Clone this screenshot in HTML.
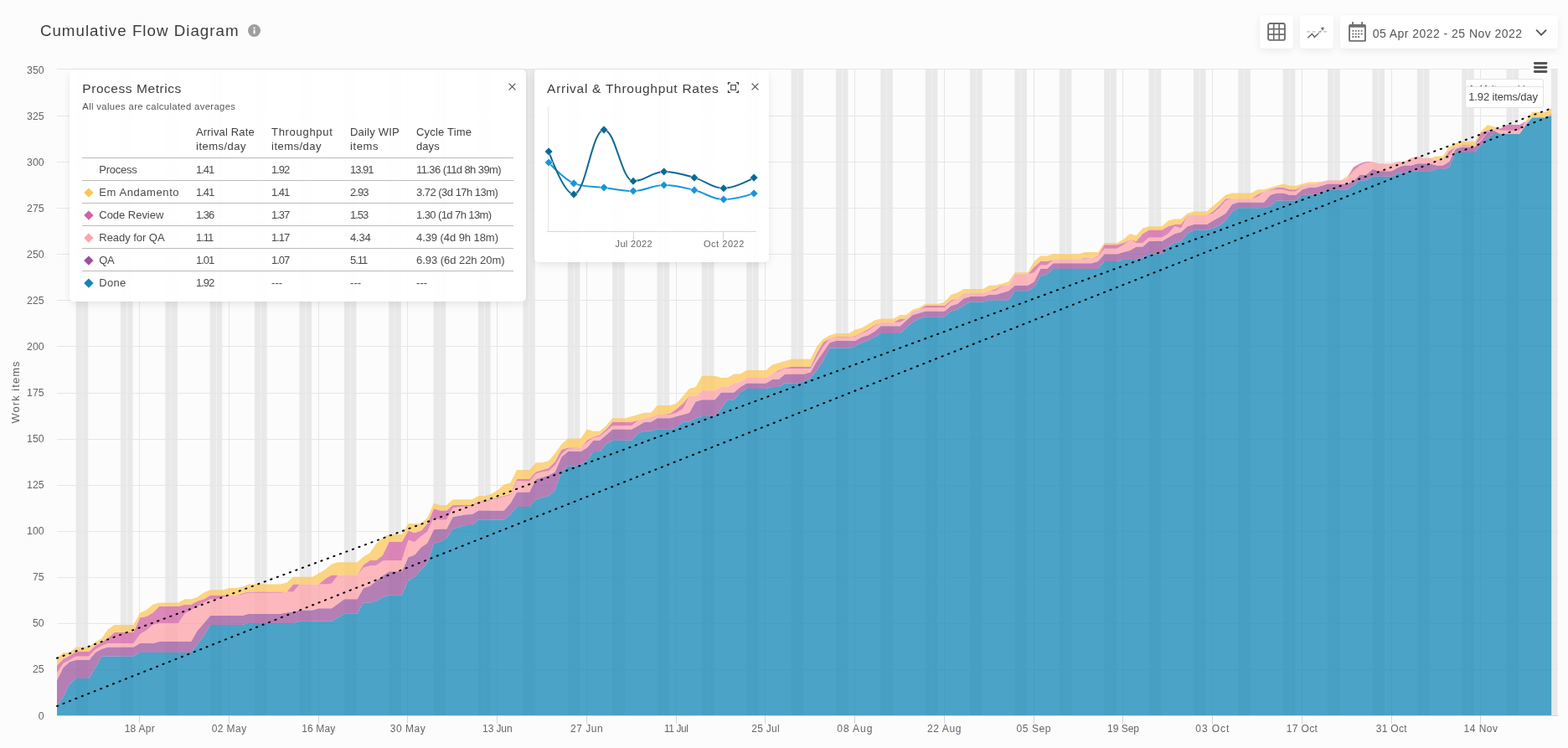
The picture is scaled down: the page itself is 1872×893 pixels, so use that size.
<!DOCTYPE html>
<html lang="en">
<head>
<meta charset="utf-8">
<title>Cumulative Flow Diagram</title>
<style>
*{box-sizing:border-box}
html,body{margin:0;padding:0}
body{width:1872px;height:893px;overflow:hidden;background:#fcfcfc;font-family:"Liberation Sans",sans-serif;color:#444;position:relative}
#chart{position:absolute;left:0;top:0;width:1872px;height:893px}
#chart text{font-family:"Liberation Sans",sans-serif;fill:#666}
h1{position:absolute;left:47.9px;top:24.3px;margin:0;font-weight:400;font-size:18.75px;line-height:26px;color:#3d3d3d;white-space:nowrap}
.info{position:absolute;left:296px;top:29px;width:15px;height:15px}
.btn{position:absolute;top:18px;height:40px;background:#fff;border-radius:4px;box-shadow:0 3px 10px rgba(0,0,0,.07),0 0 2px rgba(0,0,0,.03)}
.btn svg{position:absolute}
.date{position:absolute;left:38.7px;top:12.2px;font-size:14px;line-height:20px;color:#555;white-space:nowrap}
.panel{position:absolute;background:rgba(255,255,255,.95);border-radius:5px;box-shadow:0 4px 12px -2px rgba(0,0,0,.11),0 0 3px rgba(0,0,0,.03)}
.panel h2{position:absolute;margin:0;font-weight:400;font-size:15.5px;line-height:20px;color:#3d3d3d;white-space:nowrap}
.sub{position:absolute;font-size:11.3px;line-height:14px;color:#555;white-space:nowrap}
.x{position:absolute;width:9px;height:9px}
table{position:absolute;left:15px;top:62px;width:515px;border-collapse:separate;border-spacing:0;font-size:13px;color:#4a4a4a;table-layout:fixed}
th{font-weight:400;text-align:left;vertical-align:bottom;height:44px;line-height:17px;padding:0 0 5px 0;border-bottom:1px solid #bababa;white-space:nowrap;color:#404040}
td{height:27px;padding:1px 0 0 0;border-bottom:1px solid #bababa;white-space:nowrap;line-height:25px;vertical-align:top}
tr:last-child td{border-bottom:0}
td.n{padding-left:20.3px;position:relative}
td.n i{position:absolute;left:4.1px;top:9.6px;width:7.8px;height:7.8px;transform:rotate(45deg)}
.tl{position:absolute;background:#fff;border:1px solid #e2e2e2;border-radius:3px;font-size:13px;color:#444;white-space:nowrap;height:25px;line-height:22.4px;padding-left:3.7px;width:94px;left:1748.6px}
#menu{position:absolute;left:1827px;top:70px;width:24px;height:22px;background:#fcfcfc}
</style>
</head>
<body>
<svg id="chart" width="1872" height="893" viewBox="0 0 1872 893">
<g class="bands" fill="#e9e9e9"><rect x="90.6" y="83" width="7.35" height="771"/><rect x="98.3" y="83" width="6.9" height="771"/><rect x="143.9" y="83" width="7.35" height="771"/><rect x="151.7" y="83" width="6.9" height="771"/><rect x="197.3" y="83" width="7.35" height="771"/><rect x="205" y="83" width="6.9" height="771"/><rect x="250.7" y="83" width="7.35" height="771"/><rect x="258.4" y="83" width="6.9" height="771"/><rect x="304.1" y="83" width="7.35" height="771"/><rect x="311.8" y="83" width="6.9" height="771"/><rect x="357.4" y="83" width="7.35" height="771"/><rect x="365.2" y="83" width="6.9" height="771"/><rect x="410.8" y="83" width="7.35" height="771"/><rect x="418.5" y="83" width="6.9" height="771"/><rect x="464.2" y="83" width="7.35" height="771"/><rect x="471.9" y="83" width="6.9" height="771"/><rect x="517.6" y="83" width="7.35" height="771"/><rect x="525.3" y="83" width="6.9" height="771"/><rect x="570.9" y="83" width="7.35" height="771"/><rect x="578.7" y="83" width="6.9" height="771"/><rect x="624.3" y="83" width="7.35" height="771"/><rect x="632" y="83" width="6.9" height="771"/><rect x="677.7" y="83" width="7.35" height="771"/><rect x="685.4" y="83" width="6.9" height="771"/><rect x="731.1" y="83" width="7.35" height="771"/><rect x="738.8" y="83" width="6.9" height="771"/><rect x="784.4" y="83" width="7.35" height="771"/><rect x="792.2" y="83" width="6.9" height="771"/><rect x="837.8" y="83" width="7.35" height="771"/><rect x="845.5" y="83" width="6.9" height="771"/><rect x="891.2" y="83" width="7.35" height="771"/><rect x="898.9" y="83" width="6.9" height="771"/><rect x="944.6" y="83" width="7.35" height="771"/><rect x="952.3" y="83" width="6.9" height="771"/><rect x="997.9" y="83" width="7.35" height="771"/><rect x="1005.6" y="83" width="6.9" height="771"/><rect x="1051.3" y="83" width="7.35" height="771"/><rect x="1059" y="83" width="6.9" height="771"/><rect x="1104.7" y="83" width="7.35" height="771"/><rect x="1112.4" y="83" width="6.9" height="771"/><rect x="1158" y="83" width="7.35" height="771"/><rect x="1165.8" y="83" width="6.9" height="771"/><rect x="1211.4" y="83" width="7.35" height="771"/><rect x="1219.1" y="83" width="6.9" height="771"/><rect x="1264.8" y="83" width="7.35" height="771"/><rect x="1272.5" y="83" width="6.9" height="771"/><rect x="1318.2" y="83" width="7.35" height="771"/><rect x="1325.9" y="83" width="6.9" height="771"/><rect x="1371.5" y="83" width="7.35" height="771"/><rect x="1379.3" y="83" width="6.9" height="771"/><rect x="1424.9" y="83" width="7.35" height="771"/><rect x="1432.6" y="83" width="6.9" height="771"/><rect x="1478.3" y="83" width="7.35" height="771"/><rect x="1486" y="83" width="6.9" height="771"/><rect x="1531.7" y="83" width="7.35" height="771"/><rect x="1539.4" y="83" width="6.9" height="771"/><rect x="1585" y="83" width="7.35" height="771"/><rect x="1592.8" y="83" width="6.9" height="771"/><rect x="1638.4" y="83" width="7.35" height="771"/><rect x="1646.1" y="83" width="6.9" height="771"/><rect x="1691.8" y="83" width="7.35" height="771"/><rect x="1699.5" y="83" width="6.9" height="771"/><rect x="1745.2" y="83" width="7.35" height="771"/><rect x="1752.9" y="83" width="6.9" height="771"/><rect x="1798.5" y="83" width="7.35" height="771"/><rect x="1806.3" y="83" width="6.9" height="771"/><rect x="1851.9" y="83" width="7.35" height="771"/><rect x="1859.6" y="83" width="0.4" height="771"/></g>
<path class="grid" d="M68 82.5H1860 M68 138.5H1860 M68 193.5H1860 M68 248.5H1860 M68 303.5H1860 M68 358.5H1860 M68 413.5H1860 M68 469.5H1860 M68 524.5H1860 M68 579.5H1860 M68 634.5H1860 M68 689.5H1860 M68 744.5H1860 M68 799.5H1860 M166.5 83V854 M273.5 83V854 M380.5 83V854 M486.5 83V854 M593.5 83V854 M700.5 83V854 M807.5 83V854 M913.5 83V854 M1020.5 83V854 M1127.5 83V854 M1234.5 83V854 M1340.5 83V854 M1447.5 83V854 M1554.5 83V854 M1661.5 83V854 M1767.5 83V854" stroke="#e6e6e6" stroke-width="1" fill="none"/>
<path class="area" d="M68 843 75.6 832 83.2 816.6 90.9 809.9 106.1 809.9 113.7 797.8 121.4 783.5 159.5 783.5 167.1 779.1 228.1 779.1 235.7 769.2 243.4 759.3 251 746.1 289.1 746.1 296.7 743.9 350.1 743.9 357.7 741.7 395.9 741.7 403.5 737.2 411.1 732.8 426.4 732.8 434 719.6 441.6 719.6 449.2 717.4 456.9 713 464.5 710.8 479.7 710.8 487.4 693.2 495 688.8 502.6 680.6 510.2 672.5 517.9 649.1 525.5 646.9 533.1 642.5 540.7 631.5 548.4 629.3 556 627.1 563.6 627.1 571.2 620.5 601.7 620.5 609.4 613.9 617 605.1 632.2 605.1 639.9 596.3 647.5 594.1 655.1 591.9 662.7 585.3 670.4 563.2 678 556.6 685.6 556.6 693.2 554.4 700.9 550 708.5 539 716.1 539 723.7 530.2 731.4 525.8 754.2 525.8 761.9 517 769.5 514.8 777.1 514.8 784.7 512.6 800 512.6 807.6 510.4 815.2 503.7 822.9 503.7 830.5 499.3 838.1 497.1 853.4 497.1 861 488.3 868.6 477.3 876.2 477.3 883.9 468.5 891.5 464.1 914.4 464.1 922 461.9 929.6 461.9 937.2 457.5 952.5 457.5 960.1 455.3 967.7 450.9 975.3 442.1 983 431.1 990.6 415.6 1013.5 415.6 1021.1 413.4 1028.7 409 1036.3 406.8 1044 402.4 1051.6 398 1074.5 398 1082.1 391.4 1089.7 384.8 1097.3 380.4 1105 378.2 1127.8 378.2 1135.5 371.6 1143.1 369.4 1150.7 365 1158.3 360.6 1173.6 360.6 1181.2 358.4 1204.1 358.4 1211.7 347.3 1227 347.3 1234.6 342.9 1242.2 329.7 1249.8 327.5 1257.5 320.9 1310.8 320.9 1318.5 312.1 1333.7 312.1 1341.3 309.9 1356.6 309.9 1364.2 307.7 1371.8 303.3 1387.1 303.3 1394.7 294.5 1402.3 290.1 1410 287.9 1417.6 279.1 1425.2 274.6 1440.5 274.6 1448.1 272.4 1455.7 269.4 1463.3 263.6 1471 252.6 1478.6 248.2 1509.1 248.2 1516.7 246 1524.3 239.4 1547.2 239.4 1554.8 232.8 1570.1 232.8 1577.7 230.6 1585.3 226.2 1608.2 226.2 1615.8 221.8 1623.5 215.2 1631.1 215.2 1638.7 210.8 1661.6 210.8 1669.2 206.4 1676.8 206.4 1684.5 204.2 1707.3 204.2 1715 202 1722.6 202 1730.2 199.8 1737.8 182.1 1760.7 182.1 1768.3 173.3 1776 164.5 1783.6 160.1 1814.1 160.1 1821.7 149.1 1829.3 140.3 1844.6 140.3 1852.2 138.1 L1852.2 854 68 854Z" fill="#1085b5" fill-opacity="0.75"/>
<path class="area" d="M68 812.1 75.6 796.7 83.2 790.1 90.9 787.9 106.1 787.9 113.7 779.1 121.4 774.7 129 772.5 159.5 772.5 167.1 768.1 182.4 768.1 190 765.9 228.1 765.9 235.7 752.7 243.4 743.9 251 735 289.1 735 296.7 732.8 334.9 732.8 342.5 731.3 350.1 730.6 357.7 728.4 373 728.4 380.6 726.2 395.9 726.2 403.5 720.7 411.1 715.2 426.4 715.2 434 702 441.6 699.8 449.2 693.2 456.9 687.2 464.5 682.2 479.7 682.2 487.4 665.2 495 662.4 502.6 653.5 510.2 648.3 517.9 632.2 525.5 631.5 533.1 631.5 540.7 617 548.4 615.7 556 614.3 563.6 613.9 571.2 609.5 601.7 609.5 609.4 600.7 617 587.5 632.2 587.5 639.9 572 647.5 569.8 655.1 567.6 662.7 563.2 670.4 545.6 678 539 693.2 539 700.9 534.6 708.5 525.8 716.1 525.8 723.7 519.2 731.4 512.6 754.2 512.6 761.9 508.2 769.5 503.7 777.1 503.7 784.7 499.3 800 499.3 807.6 497.1 815.2 494.9 822.9 492.7 830.5 479.5 838.1 477.3 853.4 477.3 861 468.5 876.2 468.5 883.9 461.9 891.5 457.5 914.4 457.5 922 453.1 929.6 453.1 937.2 446.5 960.1 446.5 967.7 444.3 975.3 431.1 983 420 990.6 409 998.2 406.8 1021.1 406.8 1028.7 402.4 1036.3 400.2 1044 395.8 1051.6 389.2 1074.5 389.2 1082.1 382.6 1089.7 376 1097.3 373.8 1105 371.6 1127.8 371.6 1135.5 365 1143.1 362.8 1150.7 356.2 1158.3 354 1173.6 354 1181.2 351.7 1188.8 351.7 1196.5 349.5 1204.1 347.3 1211.7 340.7 1227 340.7 1234.6 336.3 1242.2 320.9 1249.8 320.9 1257.5 314.3 1303.2 314.3 1310.8 312.1 1318.5 303.3 1333.7 303.3 1341.3 301.1 1349 298.9 1356.6 294.5 1364.2 294.5 1371.8 287.9 1387.1 287.9 1394.7 283.5 1402.3 279.1 1410 276.9 1417.6 270.2 1425.2 268 1440.5 268 1448.1 263.6 1455.7 259.2 1463.3 254.8 1471 243.8 1478.6 241.6 1509.1 241.6 1516.7 232.8 1524.3 230.6 1532 230.6 1539.6 232.8 1547.2 232.8 1554.8 226.2 1562.5 224 1570.1 224 1577.7 221.8 1585.3 219.6 1608.2 219.6 1615.8 216.3 1623.5 208.6 1631.1 208.6 1638.7 202 1646.3 204.2 1661.6 204.2 1669.2 199.8 1676.8 197.5 1684.5 197.5 1692.1 195.3 1707.3 195.3 1715 197.5 1722.6 197.5 1730.2 193.1 1737.8 177.7 1745.5 175.5 1760.7 175.5 1768.3 167.8 1776 157.9 1783.6 155.7 1791.2 160.1 1814.1 160.1 1821.7 149.1 1829.3 140.3 1844.6 140.3 1852.2 138.1 L1852.2 138.1 1844.6 140.3 1829.3 140.3 1821.7 149.1 1814.1 160.1 1783.6 160.1 1776 164.5 1768.3 173.3 1760.7 182.1 1737.8 182.1 1730.2 199.8 1722.6 202 1715 202 1707.3 204.2 1684.5 204.2 1676.8 206.4 1669.2 206.4 1661.6 210.8 1638.7 210.8 1631.1 215.2 1623.5 215.2 1615.8 221.8 1608.2 226.2 1585.3 226.2 1577.7 230.6 1570.1 232.8 1554.8 232.8 1547.2 239.4 1524.3 239.4 1516.7 246 1509.1 248.2 1478.6 248.2 1471 252.6 1463.3 263.6 1455.7 269.4 1448.1 272.4 1440.5 274.6 1425.2 274.6 1417.6 279.1 1410 287.9 1402.3 290.1 1394.7 294.5 1387.1 303.3 1371.8 303.3 1364.2 307.7 1356.6 309.9 1341.3 309.9 1333.7 312.1 1318.5 312.1 1310.8 320.9 1257.5 320.9 1249.8 327.5 1242.2 329.7 1234.6 342.9 1227 347.3 1211.7 347.3 1204.1 358.4 1181.2 358.4 1173.6 360.6 1158.3 360.6 1150.7 365 1143.1 369.4 1135.5 371.6 1127.8 378.2 1105 378.2 1097.3 380.4 1089.7 384.8 1082.1 391.4 1074.5 398 1051.6 398 1044 402.4 1036.3 406.8 1028.7 409 1021.1 413.4 1013.5 415.6 990.6 415.6 983 431.1 975.3 442.1 967.7 450.9 960.1 455.3 952.5 457.5 937.2 457.5 929.6 461.9 922 461.9 914.4 464.1 891.5 464.1 883.9 468.5 876.2 477.3 868.6 477.3 861 488.3 853.4 497.1 838.1 497.1 830.5 499.3 822.9 503.7 815.2 503.7 807.6 510.4 800 512.6 784.7 512.6 777.1 514.8 769.5 514.8 761.9 517 754.2 525.8 731.4 525.8 723.7 530.2 716.1 539 708.5 539 700.9 550 693.2 554.4 685.6 556.6 678 556.6 670.4 563.2 662.7 585.3 655.1 591.9 647.5 594.1 639.9 596.3 632.2 605.1 617 605.1 609.4 613.9 601.7 620.5 571.2 620.5 563.6 627.1 556 627.1 548.4 629.3 540.7 631.5 533.1 642.5 525.5 646.9 517.9 649.1 510.2 672.5 502.6 680.6 495 688.8 487.4 693.2 479.7 710.8 464.5 710.8 456.9 713 449.2 717.4 441.6 719.6 434 719.6 426.4 732.8 411.1 732.8 403.5 737.2 395.9 741.7 357.7 741.7 350.1 743.9 296.7 743.9 289.1 746.1 251 746.1 243.4 759.3 235.7 769.2 228.1 779.1 167.1 779.1 159.5 783.5 121.4 783.5 113.7 797.8 106.1 809.9 90.9 809.9 83.2 816.6 75.6 832 68 843Z" fill="#9c559d" fill-opacity="0.75"/>
<path class="area" d="M68 803.3 75.6 791.9 83.2 787.9 90.9 783.5 106.1 783.5 113.7 775.6 121.4 771 129 768.1 159.5 768.1 167.1 757.1 174.7 752.7 182.4 746.1 190 743.9 212.9 743.9 220.5 732.8 228.1 728.4 235.7 724 243.4 719.6 251 715.2 258.6 715.2 266.2 713 273.9 710.8 281.5 710.8 289.1 709.7 296.7 707.7 334.9 707.7 342.5 706.4 350.1 706.4 357.7 697.6 388.2 697.6 395.9 696.7 403.5 686.6 426.4 686.6 434 677.8 441.6 675.6 449.2 674.9 456.9 669.6 464.5 669 479.7 669 487.4 644.7 495 646.9 502.6 640.3 510.2 634.8 517.9 618.3 525.5 620.5 533.1 620.5 540.7 606.6 548.4 605.1 556 604.4 563.6 604 571.2 599.8 578.9 599.3 586.5 597.1 594.1 595.2 601.7 593 609.4 590.8 617 574.2 632.2 574.2 639.9 565.4 647.5 563.2 655.1 562.3 662.7 555.5 670.4 542.3 678 535.7 685.6 535 693.2 534.6 700.9 528 708.5 522.2 716.1 521.1 723.7 514.8 731.4 508.2 754.2 508.2 761.9 501.5 769.5 499.3 777.1 499.3 784.7 494.9 800 494.9 807.6 492.7 815.2 488.3 822.9 472.9 830.5 472.9 838.1 466.3 853.4 466.3 861 461.9 868.6 461.9 876.2 457.5 883.9 455.3 891.5 450.9 914.4 450.9 922 446.5 929.6 443.4 937.2 439.9 967.7 439.9 975.3 426.6 983 413.4 990.6 404.6 998.2 402.4 1013.5 402.4 1021.1 401.8 1028.7 398 1036.3 394.9 1044 389.2 1051.6 384.8 1074.5 384.8 1082.1 380.4 1089.7 371.6 1097.3 369.4 1105 367.2 1127.8 367.2 1135.5 360.1 1143.1 356.2 1150.7 351.7 1158.3 349.5 1173.6 349.5 1181.2 347.3 1188.8 346.9 1196.5 341.4 1204.1 340.7 1211.7 327.5 1227 327.5 1234.6 325.3 1242.2 316.5 1249.8 316.5 1257.5 309.9 1288 309.9 1295.6 308.8 1303.2 307.7 1310.8 306.4 1318.5 296.7 1333.7 296.7 1341.3 292.3 1349 285.7 1356.6 290.1 1364.2 290.1 1371.8 283.5 1387.1 283.5 1394.7 279.1 1402.3 270.2 1410 272.4 1417.6 257 1440.5 257 1448.1 254.8 1455.7 248.2 1463.3 239.4 1471 237.2 1493.8 237.2 1501.5 235 1509.1 228.4 1516.7 227.1 1524.3 226.2 1532 226.2 1539.6 228.4 1547.2 228.4 1554.8 221.8 1562.5 219.6 1570.1 219.6 1577.7 217.4 1585.3 215.2 1600.6 215.2 1608.2 213 1615.8 204.2 1623.5 197.5 1631.1 194.2 1638.7 193.1 1646.3 195.3 1661.6 195.3 1669.2 193.1 1676.8 193.1 1684.5 188.7 1692.1 186.5 1699.7 188.7 1707.3 188.7 1715 190.9 1722.6 190.9 1730.2 185.4 1737.8 175.5 1745.5 174 1753.1 174 1760.7 173.3 1768.3 166.7 1776 157.9 1783.6 153.5 1791.2 155.7 1814.1 155.7 1821.7 144.7 1829.3 140.3 1844.6 140.3 1852.2 137 L1852.2 138.1 1844.6 140.3 1829.3 140.3 1821.7 149.1 1814.1 160.1 1791.2 160.1 1783.6 155.7 1776 157.9 1768.3 167.8 1760.7 175.5 1745.5 175.5 1737.8 177.7 1730.2 193.1 1722.6 197.5 1715 197.5 1707.3 195.3 1692.1 195.3 1684.5 197.5 1676.8 197.5 1669.2 199.8 1661.6 204.2 1646.3 204.2 1638.7 202 1631.1 208.6 1623.5 208.6 1615.8 216.3 1608.2 219.6 1585.3 219.6 1577.7 221.8 1570.1 224 1562.5 224 1554.8 226.2 1547.2 232.8 1539.6 232.8 1532 230.6 1524.3 230.6 1516.7 232.8 1509.1 241.6 1478.6 241.6 1471 243.8 1463.3 254.8 1455.7 259.2 1448.1 263.6 1440.5 268 1425.2 268 1417.6 270.2 1410 276.9 1402.3 279.1 1394.7 283.5 1387.1 287.9 1371.8 287.9 1364.2 294.5 1356.6 294.5 1349 298.9 1341.3 301.1 1333.7 303.3 1318.5 303.3 1310.8 312.1 1303.2 314.3 1257.5 314.3 1249.8 320.9 1242.2 320.9 1234.6 336.3 1227 340.7 1211.7 340.7 1204.1 347.3 1196.5 349.5 1188.8 351.7 1181.2 351.7 1173.6 354 1158.3 354 1150.7 356.2 1143.1 362.8 1135.5 365 1127.8 371.6 1105 371.6 1097.3 373.8 1089.7 376 1082.1 382.6 1074.5 389.2 1051.6 389.2 1044 395.8 1036.3 400.2 1028.7 402.4 1021.1 406.8 998.2 406.8 990.6 409 983 420 975.3 431.1 967.7 444.3 960.1 446.5 937.2 446.5 929.6 453.1 922 453.1 914.4 457.5 891.5 457.5 883.9 461.9 876.2 468.5 861 468.5 853.4 477.3 838.1 477.3 830.5 479.5 822.9 492.7 815.2 494.9 807.6 497.1 800 499.3 784.7 499.3 777.1 503.7 769.5 503.7 761.9 508.2 754.2 512.6 731.4 512.6 723.7 519.2 716.1 525.8 708.5 525.8 700.9 534.6 693.2 539 678 539 670.4 545.6 662.7 563.2 655.1 567.6 647.5 569.8 639.9 572 632.2 587.5 617 587.5 609.4 600.7 601.7 609.5 571.2 609.5 563.6 613.9 556 614.3 548.4 615.7 540.7 617 533.1 631.5 525.5 631.5 517.9 632.2 510.2 648.3 502.6 653.5 495 662.4 487.4 665.2 479.7 682.2 464.5 682.2 456.9 687.2 449.2 693.2 441.6 699.8 434 702 426.4 715.2 411.1 715.2 403.5 720.7 395.9 726.2 380.6 726.2 373 728.4 357.7 728.4 350.1 730.6 342.5 731.3 334.9 732.8 296.7 732.8 289.1 735 251 735 243.4 743.9 235.7 752.7 228.1 765.9 190 765.9 182.4 768.1 167.1 768.1 159.5 772.5 129 772.5 121.4 774.7 113.7 779.1 106.1 787.9 90.9 787.9 83.2 790.1 75.6 796.7 68 812.1Z" fill="#fda1a8" fill-opacity="0.75"/>
<path class="area" d="M68 794.5 75.6 786.8 83.2 782.8 90.9 777.8 106.1 777.8 113.7 771 121.4 766.5 129 761.5 136.6 754.9 159.5 754.9 167.1 737.2 174.7 736.1 182.4 731.5 190 724 212.9 724 220.5 721.8 228.1 721.8 235.7 717.4 243.4 715.2 251 710.8 281.5 710.8 289.1 708.6 296.7 706.4 342.5 706.4 350.1 697.6 380.6 697.6 388.2 691 395.9 686.6 426.4 686.6 434 674.2 441.6 669 449.2 669 456.9 662.8 464.5 646.9 479.7 646.9 487.4 633.7 495 635.9 502.6 633.7 510.2 624.9 517.9 607.3 525.5 609.5 533.1 609.5 540.7 602.9 563.6 602.9 571.2 598.5 578.9 598.5 586.5 596.3 594.1 594.1 601.7 591.9 609.4 589.7 617 572 632.2 572 639.9 563.2 647.5 561 655.1 558.8 662.7 551.1 670.4 536.8 678 534.6 693.2 534.6 700.9 525.8 708.5 521.4 716.1 519.2 723.7 512.6 731.4 503.7 754.2 503.7 761.9 501.5 769.5 499.3 777.1 498.5 784.7 494.9 792.4 494.9 800 493.8 807.6 488.3 815.2 481.7 822.9 472.9 830.5 472.9 838.1 466.3 853.4 466.3 861 461.9 868.6 461.9 876.2 457.5 883.9 455.3 891.5 450.9 914.4 450.9 922 446.5 929.6 442.1 937.2 439.2 944.9 437.7 967.7 437.7 975.3 421.8 983 408.4 990.6 404.2 998.2 402 1013.5 402 1021.1 401.1 1028.7 396.9 1036.3 393.2 1044 387.9 1051.6 384.8 1066.8 384.8 1074.5 380.4 1082.1 380.4 1089.7 371.6 1097.3 369.4 1105 365 1127.8 365 1135.5 358.4 1143.1 356.2 1150.7 350.9 1158.3 349.5 1173.6 349.5 1181.2 347.3 1188.8 345.1 1196.5 340.7 1204.1 340.7 1211.7 327.5 1227 327.5 1234.6 318.7 1242.2 312.1 1249.8 312.1 1257.5 309.9 1288 309.9 1295.6 307.7 1303.2 307.7 1310.8 305.5 1318.5 292.3 1333.7 292.3 1341.3 290.1 1349 285.7 1356.6 287.9 1364.2 279.1 1371.8 274.6 1387.1 274.6 1394.7 270.2 1402.3 268 1410 268 1417.6 257 1440.5 257 1448.1 252.6 1455.7 245.4 1463.3 237.2 1493.8 237.2 1501.5 231.9 1509.1 228.4 1516.7 226.2 1524.3 224 1532 224 1539.6 226.2 1547.2 226.2 1554.8 221.6 1562.5 219.6 1570.1 219.6 1577.7 217.4 1585.3 215.2 1600.6 215.2 1608.2 213 1615.8 199.8 1623.5 195.3 1631.1 193.1 1638.7 193.1 1646.3 195.3 1661.6 195.3 1669.2 193.1 1676.8 193.1 1684.5 188.7 1692.1 186.5 1699.7 188.7 1707.3 188.7 1715 190.9 1722.6 190.9 1730.2 179.9 1737.8 175.5 1745.5 173.3 1760.7 173.3 1768.3 157.9 1776 155.7 1783.6 153.5 1791.2 153.5 1798.8 149.1 1814.1 149.1 1821.7 144.7 1829.3 140.3 1844.6 140.3 1852.2 135.9 L1852.2 137 1844.6 140.3 1829.3 140.3 1821.7 144.7 1814.1 155.7 1791.2 155.7 1783.6 153.5 1776 157.9 1768.3 166.7 1760.7 173.3 1753.1 174 1745.5 174 1737.8 175.5 1730.2 185.4 1722.6 190.9 1715 190.9 1707.3 188.7 1699.7 188.7 1692.1 186.5 1684.5 188.7 1676.8 193.1 1669.2 193.1 1661.6 195.3 1646.3 195.3 1638.7 193.1 1631.1 194.2 1623.5 197.5 1615.8 204.2 1608.2 213 1600.6 215.2 1585.3 215.2 1577.7 217.4 1570.1 219.6 1562.5 219.6 1554.8 221.8 1547.2 228.4 1539.6 228.4 1532 226.2 1524.3 226.2 1516.7 227.1 1509.1 228.4 1501.5 235 1493.8 237.2 1471 237.2 1463.3 239.4 1455.7 248.2 1448.1 254.8 1440.5 257 1417.6 257 1410 272.4 1402.3 270.2 1394.7 279.1 1387.1 283.5 1371.8 283.5 1364.2 290.1 1356.6 290.1 1349 285.7 1341.3 292.3 1333.7 296.7 1318.5 296.7 1310.8 306.4 1303.2 307.7 1295.6 308.8 1288 309.9 1257.5 309.9 1249.8 316.5 1242.2 316.5 1234.6 325.3 1227 327.5 1211.7 327.5 1204.1 340.7 1196.5 341.4 1188.8 346.9 1181.2 347.3 1173.6 349.5 1158.3 349.5 1150.7 351.7 1143.1 356.2 1135.5 360.1 1127.8 367.2 1105 367.2 1097.3 369.4 1089.7 371.6 1082.1 380.4 1074.5 384.8 1051.6 384.8 1044 389.2 1036.3 394.9 1028.7 398 1021.1 401.8 1013.5 402.4 998.2 402.4 990.6 404.6 983 413.4 975.3 426.6 967.7 439.9 937.2 439.9 929.6 443.4 922 446.5 914.4 450.9 891.5 450.9 883.9 455.3 876.2 457.5 868.6 461.9 861 461.9 853.4 466.3 838.1 466.3 830.5 472.9 822.9 472.9 815.2 488.3 807.6 492.7 800 494.9 784.7 494.9 777.1 499.3 769.5 499.3 761.9 501.5 754.2 508.2 731.4 508.2 723.7 514.8 716.1 521.1 708.5 522.2 700.9 528 693.2 534.6 685.6 535 678 535.7 670.4 542.3 662.7 555.5 655.1 562.3 647.5 563.2 639.9 565.4 632.2 574.2 617 574.2 609.4 590.8 601.7 593 594.1 595.2 586.5 597.1 578.9 599.3 571.2 599.8 563.6 604 556 604.4 548.4 605.1 540.7 606.6 533.1 620.5 525.5 620.5 517.9 618.3 510.2 634.8 502.6 640.3 495 646.9 487.4 644.7 479.7 669 464.5 669 456.9 669.6 449.2 674.9 441.6 675.6 434 677.8 426.4 686.6 403.5 686.6 395.9 696.7 388.2 697.6 357.7 697.6 350.1 706.4 342.5 706.4 334.9 707.7 296.7 707.7 289.1 709.7 281.5 710.8 273.9 710.8 266.2 713 258.6 715.2 251 715.2 243.4 719.6 235.7 724 228.1 728.4 220.5 732.8 212.9 743.9 190 743.9 182.4 746.1 174.7 752.7 167.1 757.1 159.5 768.1 129 768.1 121.4 771 113.7 775.6 106.1 783.5 90.9 783.5 83.2 787.9 75.6 791.9 68 803.3Z" fill="#d460a4" fill-opacity="0.75"/>
<path class="area" d="M68 785.7 75.6 779.1 83.2 779.1 90.9 772.5 106.1 772.5 113.7 766.5 121.4 762.1 129 751.3 136.6 746.1 159.5 746.1 167.1 731.5 174.7 728.4 182.4 721.8 190 719.6 212.9 719.6 220.5 715.2 228.1 715.2 235.7 713 243.4 707.3 251 704.2 266.2 704.2 273.9 702 281.5 702 289.1 701.1 296.7 697.6 334.9 697.6 342.5 695.4 350.1 688.8 373 688.8 380.6 684.4 388.2 680 395.9 673.4 403.5 671.2 426.4 671.2 434 664.6 441.6 660.1 449.2 649.1 456.9 642.5 464.5 638.1 479.7 638.1 487.4 624.9 502.6 624.9 510.2 618.3 517.9 600.7 525.5 602.9 533.1 602.9 540.7 596.3 563.6 596.3 571.2 591.9 578.9 591.9 586.5 589.7 594.1 585.3 601.7 578.6 609.4 576.4 617 561 632.2 561 639.9 552.2 647.5 552.2 655.1 550 662.7 541.2 670.4 530.2 678 523.6 693.2 523.6 700.9 512.6 708.5 514.8 716.1 514.8 723.7 508.2 731.4 499.3 746.6 499.3 754.2 497.1 761.9 494.9 769.5 492.7 777.1 492.7 784.7 483.9 800 483.9 807.6 481.7 815.2 472.9 822.9 464.1 830.5 461.9 838.1 448.7 853.4 448.7 861 450.9 868.6 450.9 876.2 446.5 883.9 446.5 891.5 442.1 914.4 442.1 922 435.5 929.6 433.3 937.2 431.1 944.9 428.8 967.7 428.8 975.3 413.4 983 404.6 990.6 400.2 998.2 398 1013.5 398 1021.1 393.6 1028.7 391.4 1036.3 387 1044 382.6 1051.6 380.4 1066.8 380.4 1074.5 376 1082.1 376 1089.7 369.4 1097.3 367.2 1105 362.8 1120.2 362.8 1127.8 360.6 1135.5 351.7 1143.1 349.5 1150.7 345.1 1173.6 345.1 1181.2 340.7 1188.8 340.7 1196.5 338.5 1204.1 336.3 1211.7 325.3 1227 325.3 1234.6 312.1 1242.2 305.5 1249.8 305.5 1257.5 303.3 1288 303.3 1295.6 301.1 1310.8 301.1 1318.5 290.1 1333.7 290.1 1341.3 285.7 1349 279.1 1356.6 281.3 1364.2 272.4 1371.8 270.2 1387.1 270.2 1394.7 263.6 1402.3 261.4 1410 261.4 1417.6 254.8 1425.2 252.6 1440.5 252.6 1448.1 246 1455.7 239.4 1463.3 232.8 1471 230.6 1493.8 230.6 1501.5 226.2 1509.1 226.2 1516.7 224 1524.3 221.8 1532 219.6 1539.6 221.8 1547.2 221.8 1554.8 219.6 1562.5 217.4 1570.1 217.4 1577.7 216.7 1585.3 215.2 1600.6 215.2 1608.2 210.8 1615.8 199.3 1623.5 195.3 1631.1 193.1 1638.7 193.1 1646.3 195.3 1661.6 195.3 1669.2 193.1 1676.8 193.1 1684.5 188.7 1692.1 186.5 1699.7 188.7 1707.3 188.7 1715 186.5 1722.6 186.5 1730.2 175.5 1737.8 171.1 1745.5 168.9 1760.7 168.9 1768.3 156.8 1776 149.1 1783.6 151.3 1791.2 153.5 1798.8 149.1 1814.1 149.1 1821.7 144.7 1829.3 133.7 1844.6 133.7 1852.2 129.3 L1852.2 135.9 1844.6 140.3 1829.3 140.3 1821.7 144.7 1814.1 149.1 1798.8 149.1 1791.2 153.5 1783.6 153.5 1776 155.7 1768.3 157.9 1760.7 173.3 1745.5 173.3 1737.8 175.5 1730.2 179.9 1722.6 190.9 1715 190.9 1707.3 188.7 1699.7 188.7 1692.1 186.5 1684.5 188.7 1676.8 193.1 1669.2 193.1 1661.6 195.3 1646.3 195.3 1638.7 193.1 1631.1 193.1 1623.5 195.3 1615.8 199.8 1608.2 213 1600.6 215.2 1585.3 215.2 1577.7 217.4 1570.1 219.6 1562.5 219.6 1554.8 221.6 1547.2 226.2 1539.6 226.2 1532 224 1524.3 224 1516.7 226.2 1509.1 228.4 1501.5 231.9 1493.8 237.2 1463.3 237.2 1455.7 245.4 1448.1 252.6 1440.5 257 1417.6 257 1410 268 1402.3 268 1394.7 270.2 1387.1 274.6 1371.8 274.6 1364.2 279.1 1356.6 287.9 1349 285.7 1341.3 290.1 1333.7 292.3 1318.5 292.3 1310.8 305.5 1303.2 307.7 1295.6 307.7 1288 309.9 1257.5 309.9 1249.8 312.1 1242.2 312.1 1234.6 318.7 1227 327.5 1211.7 327.5 1204.1 340.7 1196.5 340.7 1188.8 345.1 1181.2 347.3 1173.6 349.5 1158.3 349.5 1150.7 350.9 1143.1 356.2 1135.5 358.4 1127.8 365 1105 365 1097.3 369.4 1089.7 371.6 1082.1 380.4 1074.5 380.4 1066.8 384.8 1051.6 384.8 1044 387.9 1036.3 393.2 1028.7 396.9 1021.1 401.1 1013.5 402 998.2 402 990.6 404.2 983 408.4 975.3 421.8 967.7 437.7 944.9 437.7 937.2 439.2 929.6 442.1 922 446.5 914.4 450.9 891.5 450.9 883.9 455.3 876.2 457.5 868.6 461.9 861 461.9 853.4 466.3 838.1 466.3 830.5 472.9 822.9 472.9 815.2 481.7 807.6 488.3 800 493.8 792.4 494.9 784.7 494.9 777.1 498.5 769.5 499.3 761.9 501.5 754.2 503.7 731.4 503.7 723.7 512.6 716.1 519.2 708.5 521.4 700.9 525.8 693.2 534.6 678 534.6 670.4 536.8 662.7 551.1 655.1 558.8 647.5 561 639.9 563.2 632.2 572 617 572 609.4 589.7 601.7 591.9 594.1 594.1 586.5 596.3 578.9 598.5 571.2 598.5 563.6 602.9 540.7 602.9 533.1 609.5 525.5 609.5 517.9 607.3 510.2 624.9 502.6 633.7 495 635.9 487.4 633.7 479.7 646.9 464.5 646.9 456.9 662.8 449.2 669 441.6 669 434 674.2 426.4 686.6 395.9 686.6 388.2 691 380.6 697.6 350.1 697.6 342.5 706.4 296.7 706.4 289.1 708.6 281.5 710.8 251 710.8 243.4 715.2 235.7 717.4 228.1 721.8 220.5 721.8 212.9 724 190 724 182.4 731.5 174.7 736.1 167.1 737.2 159.5 754.9 136.6 754.9 129 761.5 121.4 766.5 113.7 771 106.1 777.8 90.9 777.8 83.2 782.8 75.6 786.8 68 794.5Z" fill="#fcc759" fill-opacity="0.75"/>
<path class="axis" d="M68 854.5H1860 M166.5 854V864 M273.5 854V864 M380.5 854V864 M486.5 854V864 M593.5 854V864 M700.5 854V864 M807.5 854V864 M913.5 854V864 M1020.5 854V864 M1127.5 854V864 M1234.5 854V864 M1340.5 854V864 M1447.5 854V864 M1554.5 854V864 M1661.5 854V864 M1767.5 854V864" stroke="#ccd6eb" stroke-width="1" fill="none"/>
<path class="trend" d="M68 785.7L1852.2 129.3" stroke="#000" stroke-width="2" stroke-dasharray="1.2 6.8" stroke-linecap="round" fill="none"/>
<path class="trend" d="M68 843L1852.2 138.1" stroke="#000" stroke-width="2" stroke-dasharray="1.2 6.8" stroke-linecap="round" fill="none"/>
<g class="xl" text-anchor="middle" font-size="12"><text x="166.8" y="874" letter-spacing="0.26">18 Apr</text><text x="273.6" y="874" letter-spacing="0.43">02 May</text><text x="380.3" y="874" letter-spacing="0.13">16 May</text><text x="487.1" y="874" letter-spacing="0.53">30 May</text><text x="593.8" y="874" letter-spacing="-0.11">13 Jun</text><text x="700.6" y="874" letter-spacing="0.49">27 Jun</text><text x="807.3" y="874" letter-spacing="-0.43">11 Jul</text><text x="914.1" y="874" letter-spacing="0.29">25 Jul</text><text x="1020.8" y="874" letter-spacing="0.93">08 Aug</text><text x="1127.5" y="874" letter-spacing="0.62">22 Aug</text><text x="1234.3" y="874" letter-spacing="0.59">05 Sep</text><text x="1341" y="874" letter-spacing="-0.01">19 Sep</text><text x="1447.8" y="874" letter-spacing="0.93">03 Oct</text><text x="1554.5" y="874" letter-spacing="0.33">17 Oct</text><text x="1661.3" y="874" letter-spacing="0.33">31 Oct</text><text x="1768" y="874" letter-spacing="0.49">14 Nov</text></g>
<g class="yl" text-anchor="end" font-size="12.3"><text x="52.6" y="858.7">0</text><text x="52.6" y="803">25</text><text x="52.6" y="748">50</text><text x="52.6" y="693">75</text><text x="52.6" y="638">100</text><text x="52.6" y="583">125</text><text x="52.6" y="528">150</text><text x="52.6" y="473">175</text><text x="52.6" y="418">200</text><text x="52.6" y="363">225</text><text x="52.6" y="308">250</text><text x="52.6" y="253">275</text><text x="52.6" y="198">300</text><text x="52.6" y="143">325</text><text x="52.6" y="88">350</text></g>
<text class="yt" transform="translate(22.5 468) rotate(-90)" text-anchor="middle" font-size="13" letter-spacing="1.03">Work items</text>
</svg>
<h1 style="letter-spacing:1.0px">Cumulative Flow Diagram</h1>
<svg class="info" viewBox="0 0 15 15"><circle cx="7.5" cy="7.5" r="7.5" fill="#9e9e9e"/><rect x="6.6" y="6.4" width="2" height="5" fill="#fafafa"/><rect x="6.6" y="3.4" width="2" height="2" fill="#fafafa"/></svg>

<div class="btn" style="left:1504px;width:40px">
<svg style="left:9px;top:9px" width="22" height="22" viewBox="0 0 22 22" fill="none" stroke="#6e6e6e" stroke-width="1.9"><rect x="1.1" y="1" width="19.8" height="19.9" rx="2.2"/><path d="M7.7 1V21M14.2 1V21M1 7.7H21M1 14.2H21" stroke-width="1.7"/></svg>
</div>
<div class="btn" style="left:1552px;width:40px">
<svg style="left:7px;top:12px" width="26" height="16" viewBox="1559 30 26 16" fill="none"><path d="M1560.2 37.9H1584" stroke="#b8b8b8" stroke-width="1.4" stroke-dasharray="3.6 3.1"/><path d="M1561.3 45.2L1566.4 40.4L1569.4 44.3L1573.7 40.3" stroke="#666" stroke-width="1.5"/><path d="M1573.7 40.3L1578 36" stroke="#8a8a8a" stroke-width="1.4" stroke-dasharray="1.6 1"/><path d="M1580.8 32.2L1579.6 36.6L1576.6 33.6Z" fill="#666"/></svg>
</div>
<div class="btn" style="left:1600px;width:260px">
<svg style="left:9px;top:7px" width="23" height="26" viewBox="1609 25 23 26" fill="#707070"><path d="M1611.6 28.9h17.8a1.5 1.5 0 0 1 1.5 1.5v17.9a1.5 1.5 0 0 1 -1.5 1.5h-17.8a1.5 1.5 0 0 1 -1.5 -1.5v-17.9a1.5 1.5 0 0 1 1.5 -1.5zM1612 32.8v15.1h17v-15.1z" fill-rule="evenodd"/><rect x="1614" y="26.1" width="1.9" height="3.2" rx=".6"/><rect x="1625.2" y="26.1" width="1.9" height="3.2" rx=".6"/><path d="M1614.4 36.85H1626.6M1614.4 40.45H1626.6M1614.4 44H1623.2" stroke="#707070" stroke-width="1.9" stroke-dasharray="1.9 1.5" fill="none"/></svg>
<span class="date" style="letter-spacing:0.46px">05 Apr 2022 - 25 Nov 2022</span>
<svg style="left:232px;top:15px" width="16" height="11" viewBox="1832 33 16 11" fill="none" stroke="#555" stroke-width="1.8"><path d="M1834.1 35.6L1840.1 41.7L1846.1 35.6"/></svg>
</div>

<div id="menu"><svg width="24" height="22" viewBox="1827 70 24 22"><path d="M1832.3 75.5H1846M1832.3 80.5H1846M1832.3 85.5H1846" stroke="#555" stroke-width="2.9" stroke-linecap="round" fill="none"/></svg></div>

<div class="tl" style="top:94px;height:26px;line-height:23.8px"><span style="letter-spacing:-0.3px">1.41 items/day</span></div>
<div class="tl" style="top:103px;height:26px;line-height:23.4px"><span style="letter-spacing:-0.15px">1.92 items/day</span></div>

<div class="panel" style="left:83px;top:83px;width:545px;height:277px">
<h2 style="left:15.3px;top:13.2px;letter-spacing:0.55px">Process Metrics</h2>
<div class="sub" style="left:15.3px;top:37.2px;letter-spacing:0.34px">All values are calculated averages</div>
<svg class="x" style="left:523.5px;top:15.5px" viewBox="0 0 9 9"><path d="M.6 .6L8.4 8.4M8.4 .6L.6 8.4" stroke="#555" stroke-width="1.2" fill="none"/></svg>
<table>
<colgroup><col style="width:136px"><col style="width:90px"><col style="width:94px"><col style="width:79px"><col></colgroup>
<thead><tr><th></th><th><span style="letter-spacing:0.17px;">Arrival Rate</span><br><span style="letter-spacing:0.49px;">items/day</span></th><th><span style="letter-spacing:0.7px;">Throughput</span><br><span style="letter-spacing:0.49px;">items/day</span></th><th><span style="letter-spacing:0.2px;">Daily WIP</span><br><span style="letter-spacing:0.63px;">items</span></th><th><span style="letter-spacing:0.19px;">Cycle Time</span><br><span style="letter-spacing:0.08px;">days</span></th></tr></thead><tbody>
<tr><td class="n"><span style="letter-spacing:-0.24px;">Process</span></td><td><span style="letter-spacing:-1.0px;">1.41</span></td><td><span style="letter-spacing:-1.0px;">1.92</span></td><td><span style="letter-spacing:-1.0px;">13.91</span></td><td><span style="letter-spacing:-0.58px;">11.36 (11d 8h 39m)</span></td></tr>
<tr><td class="n"><i style="background:#fbc65b"></i><span style="letter-spacing:0.58px;">Em Andamento</span></td><td><span style="letter-spacing:-1.0px;">1.41</span></td><td><span style="letter-spacing:-1.0px;">1.41</span></td><td><span style="letter-spacing:-0.94px;">2.93</span></td><td><span style="letter-spacing:-0.52px;">3.72 (3d 17h 13m)</span></td></tr>
<tr><td class="n"><i style="background:#d65fa5"></i><span style="letter-spacing:-0.03px;">Code Review</span></td><td><span style="letter-spacing:-1.0px;">1.36</span></td><td><span style="letter-spacing:-1.0px;">1.37</span></td><td><span style="letter-spacing:-1.0px;">1.53</span></td><td><span style="letter-spacing:-0.59px;">1.30 (1d 7h 13m)</span></td></tr>
<tr><td class="n"><i style="background:#ffa5aa"></i><span style="letter-spacing:-0.04px;">Ready for QA</span></td><td><span style="letter-spacing:-1.0px;">1.11</span></td><td><span style="letter-spacing:-1.0px;">1.17</span></td><td><span style="letter-spacing:-0.2px;">4.34</span></td><td><span style="letter-spacing:-0.07px;">4.39 (4d 9h 18m)</span></td></tr>
<tr><td class="n"><i style="background:#9b4f9e"></i><span style="letter-spacing:-0.5px;">QA</span></td><td><span style="letter-spacing:-1.0px;">1.01</span></td><td><span style="letter-spacing:-1.0px;">1.07</span></td><td><span style="letter-spacing:-1.0px;">5.11</span></td><td><span style="letter-spacing:-0.04px;">6.93 (6d 22h 20m)</span></td></tr>
<tr><td class="n"><i style="background:#0f85b5"></i><span style="letter-spacing:0.27px;">Done</span></td><td><span style="letter-spacing:-1.0px;">1.92</span></td><td><span style="letter-spacing:0.1px;">---</span></td><td><span style="letter-spacing:0.1px;">---</span></td><td><span style="letter-spacing:0.1px;">---</span></td></tr>
</tbody></table>
</div>

<div class="panel" style="left:638px;top:83px;width:280px;height:230px">
<h2 style="left:15.1px;top:13.2px;letter-spacing:0.72px">Arrival &amp; Throughput Rates</h2>
<svg style="position:absolute;left:230px;top:14px" width="15" height="15" viewBox="868 97 15 15" fill="none"><path d="M869.5 101V98.6H872M879 98.6H881.4V101M881.4 108V110.4H879M872 110.4H869.5V108" stroke="#3a3a3a" stroke-width="1.3"/><rect x="872.7" y="101.6" width="5.7" height="5.7" stroke="#555" stroke-width="1.3"/></svg>
<svg class="x" style="left:259px;top:15.5px" viewBox="0 0 9 9"><path d="M.6 .6L8.4 8.4M8.4 .6L.6 8.4" stroke="#555" stroke-width="1.2" fill="none"/></svg>
<svg style="position:absolute;left:0;top:0" width="280" height="230" viewBox="638 83 280 230">
<path d="M654.5 128V276.5" stroke="#e6e6e6" stroke-width="1" fill="none"/>
<path d="M653 276.5H903M756.5 276V286M863.5 276V286" stroke="#ccd6eb" stroke-width="1" fill="none"/>
<path d="M655.1 194.0 C655.1 194.0 673.0 213.9 685.0 218.9 C699.4 223.9 706.6 222.1 721.0 223.9 C735.0 225.7 742.0 228.0 756.0 228.0 C770.7 228.0 778.0 221.0 792.7 221.0 C807.2 221.0 814.4 223.5 828.9 227.0 C842.9 230.4 849.9 238.1 863.9 238.1 C878.4 238.1 900.1 230.9 900.1 230.9" fill="none" stroke="#1696d8" stroke-width="2" stroke-linecap="round"/>
<path d="M655.1 180.9 C655.1 180.9 673.0 232.0 685.0 232.0 C699.4 232.0 706.6 154.9 721.0 154.9 C735.0 154.9 742.0 216.2 756.0 216.2 C770.7 216.2 778.0 204.9 792.7 204.9 C807.2 204.9 814.4 208.1 828.9 212.1 C842.9 216.0 849.9 224.8 863.9 224.8 C878.4 224.8 900.1 212.1 900.1 212.1" fill="none" stroke="#0b6896" stroke-width="2" stroke-linecap="round"/>
<path d="M655.1 189.2 l4.8 4.8 l-4.8 4.8 l-4.8 -4.8Z M685.0 214.1 l4.8 4.8 l-4.8 4.8 l-4.8 -4.8Z M721.0 219.1 l4.8 4.8 l-4.8 4.8 l-4.8 -4.8Z M756.0 223.2 l4.8 4.8 l-4.8 4.8 l-4.8 -4.8Z M792.7 216.2 l4.8 4.8 l-4.8 4.8 l-4.8 -4.8Z M828.9 222.2 l4.8 4.8 l-4.8 4.8 l-4.8 -4.8Z M863.9 233.3 l4.8 4.8 l-4.8 4.8 l-4.8 -4.8Z M900.1 226.1 l4.8 4.8 l-4.8 4.8 l-4.8 -4.8Z" fill="#1696d8" stroke="#fff" stroke-width="0.6"/>
<path d="M655.1 176.1 l4.8 4.8 l-4.8 4.8 l-4.8 -4.8Z M685.0 227.2 l4.8 4.8 l-4.8 4.8 l-4.8 -4.8Z M721.0 150.1 l4.8 4.8 l-4.8 4.8 l-4.8 -4.8Z M756.0 211.4 l4.8 4.8 l-4.8 4.8 l-4.8 -4.8Z M792.7 200.1 l4.8 4.8 l-4.8 4.8 l-4.8 -4.8Z M828.9 207.3 l4.8 4.8 l-4.8 4.8 l-4.8 -4.8Z M863.9 220.0 l4.8 4.8 l-4.8 4.8 l-4.8 -4.8Z M900.1 207.3 l4.8 4.8 l-4.8 4.8 l-4.8 -4.8Z" fill="#0b6896" stroke="#fff" stroke-width="0.6"/>
<g font-family="Liberation Sans, sans-serif" font-size="11" fill="#666" text-anchor="middle"><text x="756.8" y="294.8" style="letter-spacing:0.37px">Jul 2022</text><text x="864.4" y="294.8" style="letter-spacing:0.54px">Oct 2022</text></g>
</svg>
</div>
</body>
</html>
